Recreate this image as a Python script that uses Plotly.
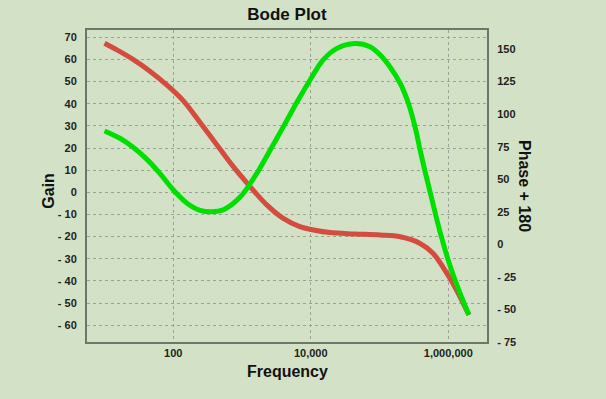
import plotly.graph_objects as go

# Gain curve (red, left axis): log10(frequency), gain
gain_logf = [1.0, 1.18, 1.42, 1.66, 1.90, 2.15, 2.39, 2.63, 2.87, 3.12, 3.36, 3.60, 3.84, 4.04, 4.28, 4.64, 5.01, 5.30, 5.59, 5.78, 5.98, 6.12, 6.30]
gain_vals = [67.3, 64.3, 59.9, 54.7, 48.6, 41.2, 31.5, 21.6, 11.7, 2.5, -5.7, -11.8, -15.5, -17.0, -18.2, -18.8, -19.3, -20.1, -23.1, -27.6, -36.6, -44.1, -55.4]

# Phase + 180 curve (green, right axis)
phase_logf = [1.0, 1.23, 1.42, 1.61, 1.81, 2.0, 2.20, 2.39, 2.56, 2.73, 2.97, 3.21, 3.41, 3.60, 3.80, 3.99, 4.18, 4.38, 4.64, 4.86, 5.01, 5.15, 5.30, 5.42, 5.52, 5.59, 5.66, 5.76, 5.88, 6.03, 6.22, 6.30]
phase_vals = [87.1, 81.3, 74.4, 65.6, 54.1, 41.8, 31.6, 26.1, 25.0, 26.6, 36.1, 54.1, 72.5, 90.2, 109.3, 126.2, 141.6, 150.5, 154.2, 151.8, 145.4, 136.4, 123.7, 108.3, 89.4, 72.5, 56.4, 34.9, 9.6, -17.2, -44.1, -54.1]

x_tickvals = [100, 10000, 1000000]
x_ticktext = ["100", "10,000", "1,000,000"]
gain_ticks = [70, 60, 50, 40, 30, 20, 10, 0, -10, -20, -30, -40, -50, -60]
phase_ticks = [150, 125, 100, 75, 50, 25, 0, -25, -50, -75]


def fmt(v):
    return "- " + str(abs(v)) if v < 0 else str(v)


bg = "#d3e2c7"
font_fam = "Liberation Sans, Arial, sans-serif"

fig = go.Figure()
fig.add_trace(go.Scatter(
    x=[10 ** v for v in phase_logf], y=phase_vals, yaxis="y2", mode="lines",
    line=dict(color="#00e000", width=5, shape="spline", smoothing=1, simplify=False),
    showlegend=False))
fig.add_trace(go.Scatter(
    x=[10 ** v for v in gain_logf], y=gain_vals, mode="lines",
    line=dict(color="#d44c40", width=5, shape="spline", smoothing=1, simplify=False),
    showlegend=False))

fig.update_layout(
    width=606, height=399,
    margin=dict(l=87, r=119, t=30, b=57),
    paper_bgcolor=bg, plot_bgcolor=bg,
    font=dict(family=font_fam, color="#222222", size=11, weight="bold"),
    title=dict(text="Bode Plot", x=0.5, xanchor="center", xref="paper",
               y=0.965, yanchor="middle",
               font=dict(size=17, color="#111111", weight="bold")),
    xaxis=dict(type="log", range=[0.745, 6.563], tickvals=x_tickvals, ticktext=x_ticktext,
               showgrid=True, gridcolor="#9aa394", griddash="dot", gridwidth=1,
               showline=True, linecolor="#6d7768", linewidth=2, mirror=True,
               ticks="", zeroline=False, tickfont=dict(size=11, weight="bold"),
               automargin=False),
    yaxis=dict(range=[-67.6, 73.3], tickvals=gain_ticks, ticktext=[fmt(v) for v in gain_ticks],
               showgrid=True, gridcolor="#9aa394", griddash="dot", gridwidth=1,
               showline=True, linecolor="#6d7768", linewidth=2,
               ticks="", zeroline=False, ticklabelstandoff=6,
               tickfont=dict(size=11, weight="bold"), automargin=False),
    yaxis2=dict(range=[-75, 164.6], overlaying="y", side="right",
                tickvals=phase_ticks, ticktext=[fmt(v) for v in phase_ticks],
                showgrid=False, showline=True, linecolor="#6d7768", linewidth=2,
                ticks="", zeroline=False, ticklabelstandoff=6,
                tickfont=dict(size=11, weight="bold"), automargin=False),
    annotations=[
        dict(text="Frequency", xref="paper", yref="paper", x=0.5, y=-0.095,
             xanchor="center", yanchor="middle", showarrow=False,
             font=dict(size=16, color="#111111", weight="bold")),
        dict(text="Gain", xref="paper", yref="paper", x=-0.095, y=0.485,
             xanchor="center", yanchor="middle", showarrow=False, textangle=-90,
             font=dict(size=16, color="#111111", weight="bold")),
        dict(text="Phase + 180", xref="paper", yref="paper", x=1.095, y=0.5,
             xanchor="center", yanchor="middle", showarrow=False, textangle=90,
             font=dict(size=16, color="#111111", weight="bold")),
    ],
)

fig.write_html("out.html", config={"displayModeBar": False},
               post_script="document.body.style.margin='0';document.body.style.padding='0';")
